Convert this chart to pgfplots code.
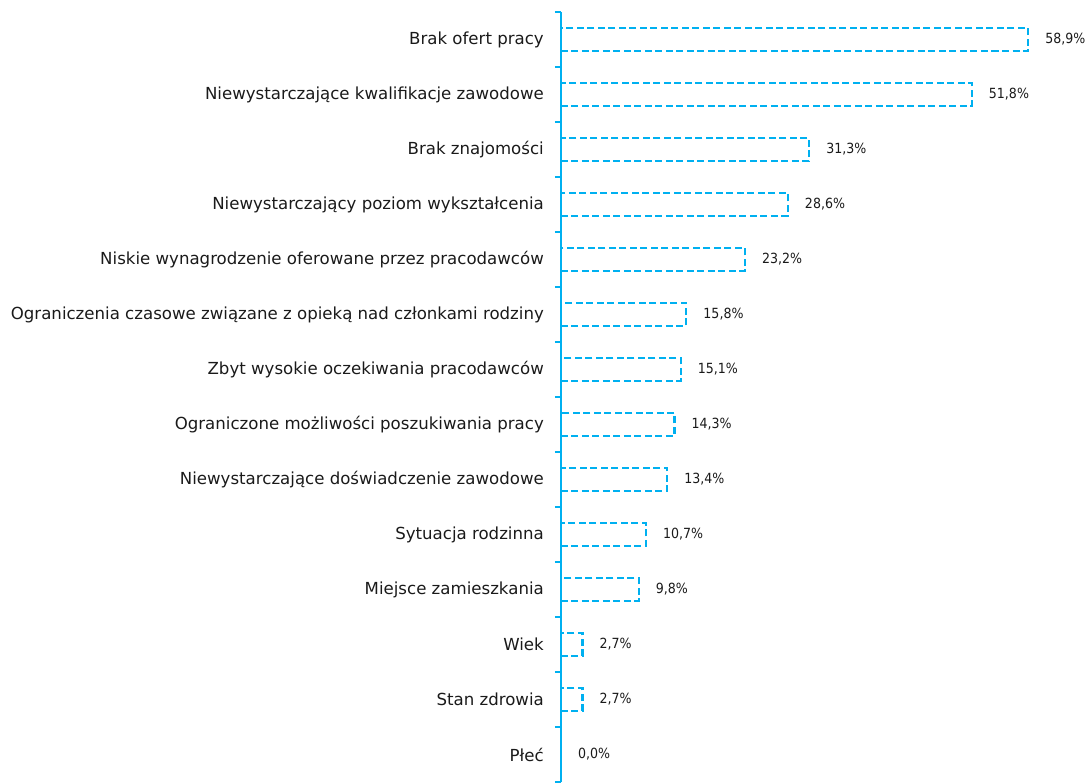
\documentclass[border=0pt]{standalone}
\usepackage{pgfplots}
\pgfplotsset{compat=1.18}
\usepackage{fontspec}
\setmainfont{DejaVu Sans}
\newfontfamily\valfont{DejaVu Sans Condensed}
\definecolor{barcyan}{HTML}{00B0F0}
\definecolor{txt}{HTML}{1A1A1A}

\begin{document}
\begin{tikzpicture}
\useasboundingbox (-561pt,0pt) rectangle (528pt,782pt);
\begin{axis}[
    at={(0pt,0pt)}, anchor=south west,
    scale only axis,
    width=475.8pt, height=770pt,
    xbar, bar width=23pt,
    xmin=0, xmax=60,
    ymin=-0.5, ymax=13.5,
    y dir=reverse,
    axis y line=left,
    axis x line=none,
    y axis line style={draw=barcyan, line width=2.4pt, -},
    ytick={0,...,13},
    major tick length=0pt,
    minor ytick={-0.5,0.5,...,13.5},
    minor tick length=6pt,
    tick align=outside,
    minor tick style={draw=barcyan, line width=2pt},
    yticklabels={
        Brak ofert pracy,
        Niewystarczające kwalifikacje zawodowe,
        Brak znajomości,
        Niewystarczający poziom wykształcenia,
        Niskie wynagrodzenie oferowane przez pracodawców,
        Ograniczenia czasowe związane z opieką nad członkami rodziny,
        Zbyt wysokie oczekiwania pracodawców,
        Ograniczone możliwości poszukiwania pracy,
        Niewystarczające doświadczenie zawodowe,
        Sytuacja rodzinna,
        Miejsce zamieszkania,
        Wiek,
        Stan zdrowia,
        Płeć},
    yticklabel style={anchor=east, inner sep=0pt, xshift=-17pt, font=\fontsize{16.6}{20}\selectfont, text=txt},
    clip=false,
    point meta=explicit symbolic,
    nodes near coords,
    nodes near coords style={anchor=west, inner sep=0pt, xshift=16pt, font=\valfont\fontsize{14}{17}\selectfont, text=txt},
]
\addplot[draw=barcyan, fill=none, line width=2.4pt, dash pattern=on 7pt off 3.5pt]
coordinates {
    (58.9,0) [58,9\%]
    (51.8,1) [51,8\%]
    (31.3,2) [31,3\%]
    (28.6,3) [28,6\%]
    (23.2,4) [23,2\%]
    (15.8,5) [15,8\%]
    (15.1,6) [15,1\%]
    (14.3,7) [14,3\%]
    (13.4,8) [13,4\%]
    (10.7,9) [10,7\%]
    (9.8,10) [9,8\%]
    (2.7,11) [2,7\%]
    (2.7,12) [2,7\%]
    (0.0,13) [0,0\%]
};
\end{axis}
\end{tikzpicture}
\end{document}
